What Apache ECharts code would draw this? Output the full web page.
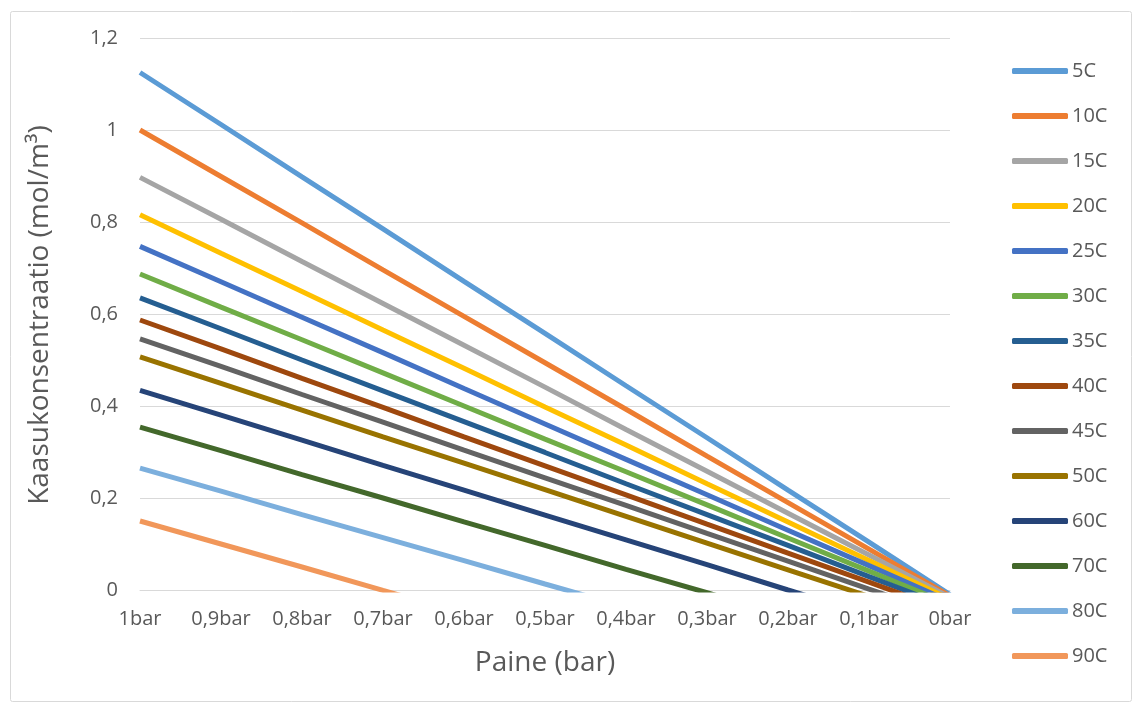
<!DOCTYPE html>
<html>
<head>
<meta charset="utf-8">
<script src="https://cdn.jsdelivr.net/npm/echarts@6/dist/echarts.min.js"></script>
<style>
html,body{margin:0;padding:0;background:#fff;}
#main{width:1133px;height:709px;}
</style>
</head>
<body>
<div id="main"></div>
<script>
const categories = ['1bar','0,9bar','0,8bar','0,7bar','0,6bar','0,5bar','0,4bar','0,3bar','0,2bar','0,1bar','0bar'];
const seriesNames = ['5C','10C','15C','20C','25C','30C','35C','40C','45C','50C','60C','70C','80C','90C'];
const s5C  = [1.125, 1.012, 0.898, 0.785, 0.671, 0.558, 0.444, 0.331, 0.217, 0.104, -0.010];
const s10C = [1.000, 0.899, 0.798, 0.696, 0.595, 0.494, 0.393, 0.291, 0.190, 0.089, -0.013];
const s15C = [0.897, 0.806, 0.714, 0.623, 0.532, 0.441, 0.349, 0.258, 0.167, 0.076, -0.016];
const s20C = [0.816, 0.732, 0.649, 0.565, 0.482, 0.398, 0.315, 0.231, 0.148, 0.064, -0.020];
const s25C = [0.747, 0.670, 0.593, 0.516, 0.438, 0.361, 0.284, 0.207, 0.130, 0.053, -0.025];
const s30C = [0.687, 0.615, 0.544, 0.472, 0.400, 0.328, 0.257, 0.185, 0.113, 0.041, -0.031];
const s35C = [0.635, 0.568, 0.500, 0.433, 0.366, 0.299, 0.231, 0.164, 0.097, 0.029, -0.038];
const s40C = [0.587, 0.524, 0.460, 0.397, 0.333, 0.270, 0.207, 0.143, 0.080, 0.017, -0.047];
const s45C = [0.546, 0.486, 0.425, 0.365, 0.304, 0.244, 0.184, 0.123, 0.063, 0.002, -0.058];
const s50C = [0.507, 0.449, 0.391, 0.333, 0.276, 0.218, 0.160, 0.102, 0.044, -0.014, -0.071];
const s60C = [0.434, 0.380, 0.326, 0.271, 0.217, 0.163, 0.109, 0.055, 0.000, -0.054, -0.108];
const s70C = [0.354, 0.303, 0.251, 0.200, 0.148, 0.097, 0.045, -0.006, -0.058, -0.109, -0.161];
const s80C = [0.265, 0.215, 0.164, 0.114, 0.064, 0.013, -0.037, -0.088, -0.138, -0.188, -0.239];
const s90C = [0.150, 0.100, 0.050, -0.001, -0.051, -0.101, -0.151, -0.202, -0.252, -0.302, -0.352];
const seriesData = [s5C,s10C,s15C,s20C,s25C,s30C,s35C,s40C,s45C,s50C,s60C,s70C,s80C,s90C];
const colors = ['#5B9BD5','#ED7D31','#A5A5A5','#FFC000','#4472C4','#70AD47','#255E91','#9E480E','#636363','#997300','#264478','#43682B','#7CAFDD','#F1975A'];

const FONT = '"Open Sans", "Noto Sans", sans-serif';
const chart = echarts.init(document.getElementById('main'), null, {renderer:'canvas'});
chart.setOption({
  animation:false,
  backgroundColor:'#fff',
  textStyle:{fontFamily:FONT},
  grid:{left:140, right:183, top:38, bottom:119, containLabel:false},
  xAxis:{
    type:'category', data:categories, boundaryGap:false,
    axisLine:{show:true, lineStyle:{color:'#d9d9d9', width:1}},
    axisTick:{show:false},
    axisLabel:{color:'#595959', fontSize:20, margin:19, fontFamily:FONT, interval:0},
    splitLine:{show:false}
  },
  yAxis:{
    type:'value', min:0, max:1.2, interval:0.2,
    axisLine:{show:false}, axisTick:{show:false},
    axisLabel:{color:'#595959', fontSize:20, margin:22, fontFamily:FONT,
      formatter:v => String(Math.round(v*10)/10).replace('.', ',')},
    splitLine:{lineStyle:{color:'#d9d9d9', width:1}}
  },
  legend:{
    orient:'vertical', left:1012, top:61, itemGap:25, padding:0,
    itemWidth:56, itemHeight:6, icon:'roundRect',
    textStyle:{color:'#595959', fontSize:20, lineHeight:20, fontFamily:FONT, padding:[0,0,0,-1]},
    data:seriesNames
  },
  series: seriesNames.map((n,i)=>({
    name:n, type:'line', data:seriesData[i], showSymbol:false, symbol:'none',
    clip:true, color:colors[i],
    lineStyle:{color:colors[i], width:5}
  })),
  graphic:[
    {type:'rect', left:8, top:9, shape:{width:1121, height:690, r:2}, style:{fill:'none', stroke:'#d9d9d9', lineWidth:1}, silent:true},
    {type:'text', x:40, y:315, rotation:Math.PI/2, style:{text:'Kaasukonsentraatio (mol/m³)', fill:'#595959', font:'28px '+FONT, textAlign:'center', textVerticalAlign:'middle'}},
    {type:'text', x:545, y:663, style:{text:'Paine (bar)', fill:'#595959', font:'28px '+FONT, textAlign:'center', textVerticalAlign:'middle'}}
  ]
});
</script>
</body>
</html>
